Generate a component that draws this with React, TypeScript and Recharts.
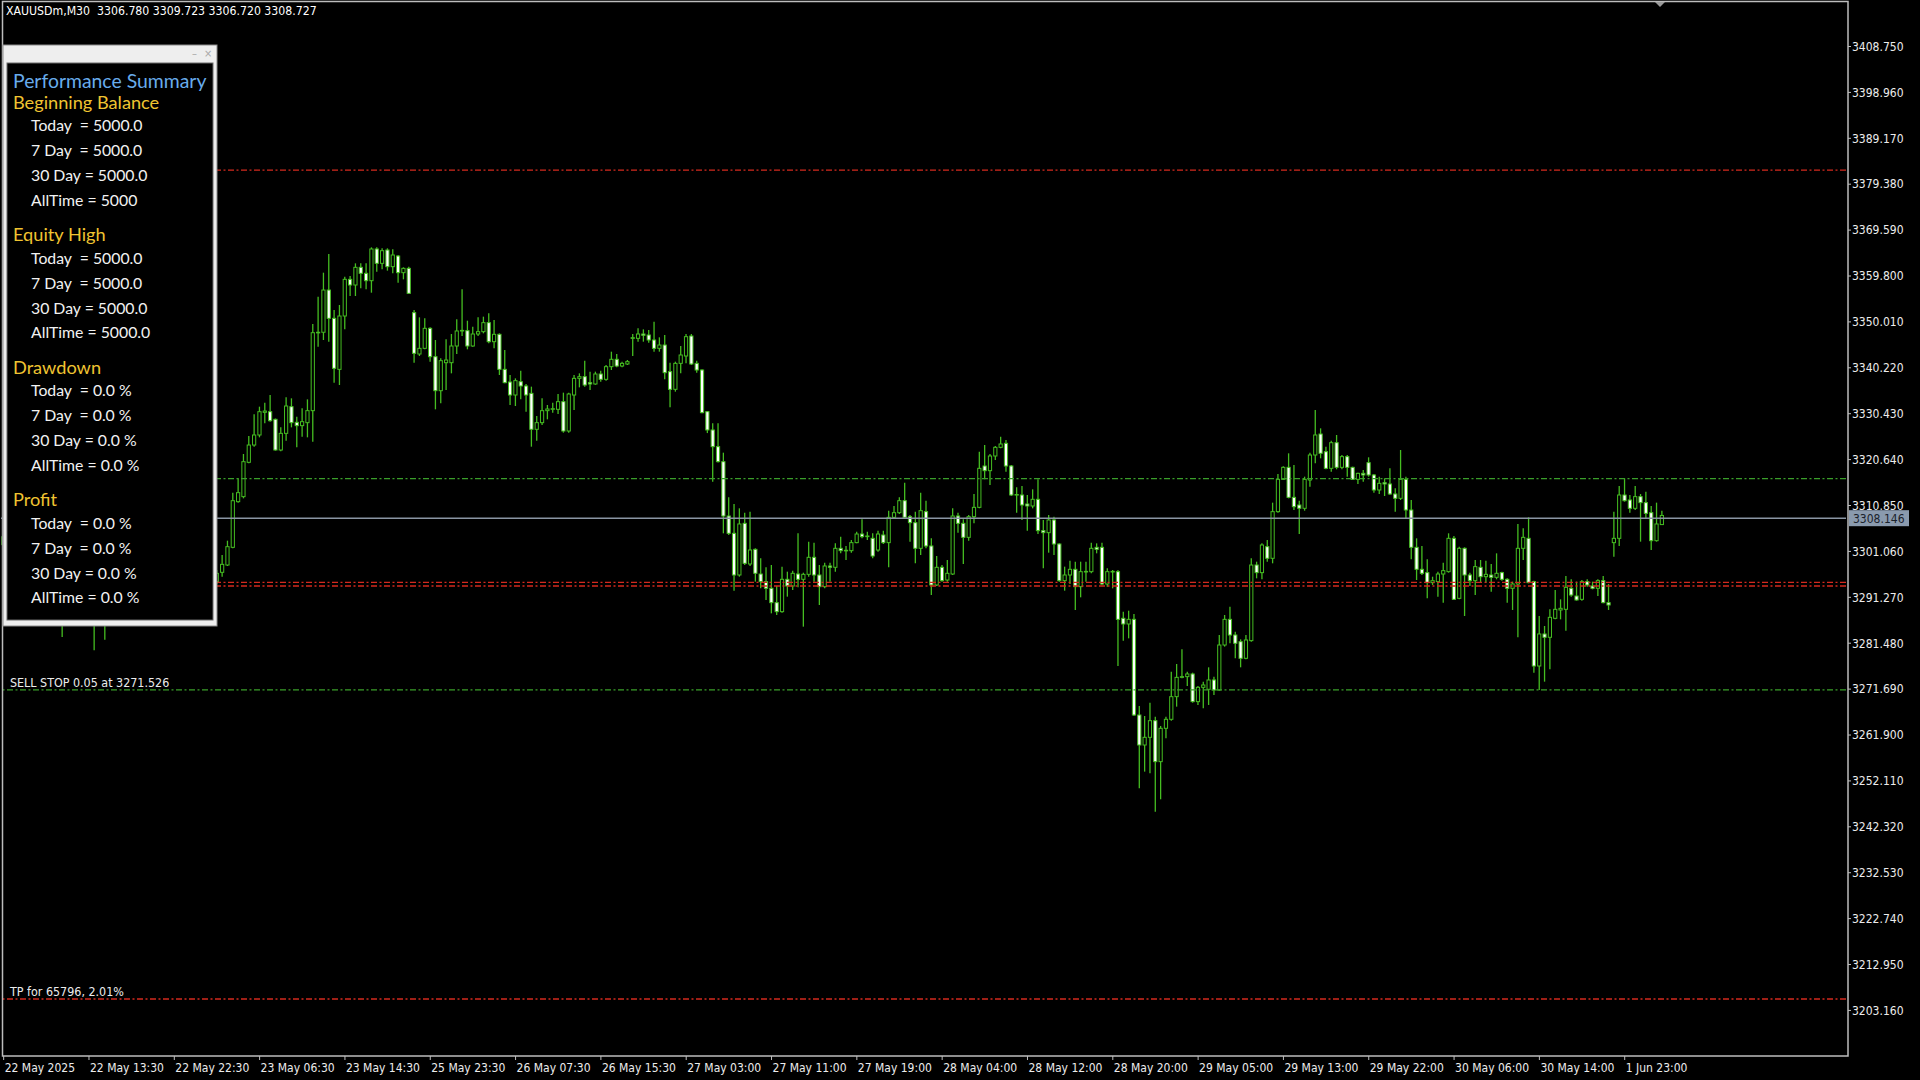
import React from 'react';
import { ComposedChart, Bar, XAxis, YAxis, ReferenceLine } from 'recharts';

// chart geometry (MT4 style, 346 bar slots, labels every 16 bars)
const CHART_W = 1920;
const CHART_H = 1080;
const SLOTS = 346;
const LABEL_STEP = 16;
const Y_MIN = 3193.44;
const Y_MAX = 3418.24;

const GREEN = '#45bd21';
const LINE_GREEN = '#3a9f2a';
const LINE_RED = '#d42a1e';
const TXT = '#ececec';
const BORDER = '#bdbdbd';
const LABEL_FONT = '"DejaVu Sans Condensed", "DejaVu Sans", sans-serif';
const PANEL_FONT = 'Lato, "Open Sans", sans-serif';

const symbolName = 'XAUUSDm,M30';

const timeLabels = [
  '22 May 2025', '22 May 13:30', '22 May 22:30', '23 May 06:30', '23 May 14:30',
  '25 May 23:30', '26 May 07:30', '26 May 15:30', '27 May 03:00', '27 May 11:00',
  '27 May 19:00', '28 May 04:00', '28 May 12:00', '28 May 20:00', '29 May 05:00',
  '29 May 13:00', '29 May 22:00', '30 May 06:00', '30 May 14:00', '1 Jun 23:00',
];

const priceTicks = [
  3408.75, 3398.96, 3389.17, 3379.38, 3369.59, 3359.8, 3350.01, 3340.22, 3330.43, 3320.64, 3310.85,
  3301.06, 3291.27, 3281.48, 3271.69, 3261.9, 3252.11, 3242.32, 3232.53, 3222.74, 3212.95, 3203.16,
];

const openPrices = [
  3304.2, 3302.5, 3300.4, 3301.8, 3298.6, 3296.0, 3298.7, 3297.2, 3293.6, 3295.9,
  3292.3, 3290.5, 3288.9, 3294.7, 3293.1, 3295.2, 3291.3, 3290.0, 3288.6, 3291.6,
  3289.3, 3293.8, 3296.9, 3295.0, 3297.4, 3300.6, 3298.5, 3296.3, 3299.1, 3302.6,
  3300.7, 3297.2, 3294.0, 3296.8, 3293.4, 3291.0, 3293.9, 3292.2, 3294.8, 3293.9,
  3294.61, 3296.60, 3298.16, 3301.93, 3311.67, 3312.74, 3320.06, 3323.75, 3325.89, 3330.72,
  3330.86, 3329.23, 3322.69, 3326.24, 3331.93, 3328.59, 3327.88, 3328.52, 3331.08, 3347.71,
  3347.80, 3356.81, 3350.77, 3339.89, 3351.27, 3359.09, 3357.88, 3361.65, 3360.37, 3358.80,
  3365.56, 3362.50, 3365.34, 3361.79, 3364.06, 3360.51, 3361.43, 3351.98, 3343.16, 3344.37,
  3348.64, 3342.59, 3335.34, 3341.31, 3341.31, 3344.87, 3348.07, 3348.14, 3344.87, 3347.43,
  3347.93, 3349.85, 3345.79, 3347.36, 3339.89, 3337.19, 3334.42, 3337.26, 3336.34, 3334.77,
  3327.10, 3328.52, 3331.08, 3331.43, 3331.36, 3333.00, 3326.74, 3334.42, 3337.97, 3338.33,
  3337.05, 3336.77, 3338.90, 3337.76, 3340.46, 3342.03, 3340.60, 3341.03, 3346.50, 3346.50,
  3347.43, 3347.22, 3346.15, 3344.37, 3345.08, 3339.40, 3335.63, 3341.17, 3342.74, 3347.00,
  3341.17, 3339.75, 3330.87, 3326.96, 3323.40, 3320.20, 3308.61, 3304.92, 3296.03, 3307.05,
  3298.38, 3301.50, 3296.24, 3294.61, 3293.19, 3290.13, 3288.21, 3295.11, 3293.68, 3296.24,
  3295.11, 3296.17, 3299.80, 3296.03, 3293.54, 3297.95, 3297.67, 3301.72, 3301.22, 3301.22,
  3302.93, 3304.77, 3304.21, 3303.85, 3301.36, 3304.56, 3302.93, 3308.33, 3309.32, 3311.88,
  3308.47, 3307.19, 3301.72, 3309.54, 3302.22, 3293.90, 3297.67, 3294.96, 3296.24, 3308.61,
  3307.05, 3304.06, 3308.47, 3310.46, 3319.28, 3318.28, 3321.41, 3323.26, 3324.11, 3319.28,
  3313.09, 3313.09, 3311.17, 3310.75, 3312.17, 3305.49, 3305.06, 3307.76, 3302.64, 3294.82,
  3296.03, 3297.24, 3293.54, 3296.74, 3296.74, 3301.93, 3301.93, 3294.11, 3296.74, 3296.74,
  3286.79, 3285.58, 3286.57, 3266.17, 3259.77, 3261.41, 3264.96, 3256.22, 3263.33, 3265.25,
  3270.08, 3274.20, 3274.35, 3274.92, 3269.02, 3272.07, 3271.65, 3273.64, 3271.50, 3281.10,
  3286.57, 3283.23, 3281.81, 3278.26, 3282.03, 3298.16, 3296.53, 3302.07, 3299.59, 3309.54,
  3316.43, 3318.99, 3312.59, 3310.96, 3310.25, 3316.29, 3321.62, 3326.10, 3322.33, 3318.78,
  3324.25, 3318.99, 3321.27, 3318.99, 3316.43, 3317.71, 3319.99, 3317.36, 3314.16, 3315.72,
  3315.44, 3313.31, 3312.38, 3316.43, 3309.89, 3301.93, 3297.24, 3296.53, 3294.40, 3294.61,
  3296.24, 3296.74, 3303.85, 3291.05, 3301.72, 3296.03, 3294.82, 3297.67, 3295.67, 3296.03,
  3295.53, 3296.53, 3295.11, 3293.19, 3294.11, 3301.72, 3303.85, 3294.61, 3276.62, 3283.45,
  3282.74, 3286.79, 3288.57, 3288.71, 3293.19, 3291.55, 3290.84, 3294.61, 3293.68, 3293.19,
  3294.82, 3290.13, 3302.93, 3303.85, 3313.09, 3312.03, 3310.25, 3312.74, 3311.46, 3309.32,
  3303.35, 3306.78,
];

const highPrices = [
  3306.1, 3304.0, 3302.9, 3303.5, 3300.2, 3299.4, 3301.3, 3298.5, 3296.8, 3297.0,
  3294.6, 3293.2, 3295.4, 3297.3, 3296.0, 3296.4, 3293.7, 3292.1, 3292.4, 3292.8,
  3294.5, 3297.6, 3299.2, 3298.1, 3301.5, 3302.3, 3300.1, 3299.8, 3303.4, 3304.8,
  3301.9, 3298.6, 3297.5, 3298.0, 3295.2, 3294.7, 3296.3, 3295.6, 3297.1, 3295.8,
  3297.10, 3300.29, 3303.35, 3313.59, 3316.65, 3321.84, 3325.67, 3330.30, 3331.93, 3332.78,
  3334.42, 3329.40, 3327.52, 3333.92, 3333.71, 3329.80, 3331.58, 3333.49, 3349.56, 3355.39,
  3360.51, 3364.49, 3352.55, 3353.61, 3359.66, 3359.80, 3362.50, 3362.50, 3362.50, 3365.91,
  3365.91, 3365.70, 3365.70, 3365.49, 3364.28, 3361.65, 3361.79, 3352.55, 3350.98, 3350.77,
  3348.85, 3346.15, 3342.24, 3346.29, 3347.43, 3350.56, 3356.96, 3350.27, 3348.99, 3350.98,
  3351.13, 3351.84, 3350.41, 3347.57, 3344.02, 3338.68, 3337.97, 3339.61, 3336.77, 3336.20,
  3329.94, 3333.71, 3332.29, 3332.78, 3334.63, 3334.92, 3334.92, 3338.68, 3339.04, 3341.74,
  3339.40, 3339.40, 3339.61, 3340.82, 3343.66, 3343.16, 3341.53, 3341.88, 3347.43, 3348.64,
  3348.42, 3348.28, 3350.06, 3346.72, 3347.22, 3341.31, 3341.53, 3344.87, 3347.43, 3347.43,
  3341.74, 3339.89, 3331.00, 3328.38, 3328.38, 3322.12, 3312.59, 3311.17, 3310.25, 3309.32,
  3309.54, 3301.72, 3299.59, 3297.67, 3298.16, 3293.68, 3297.81, 3296.74, 3296.96, 3304.92,
  3296.52, 3303.14, 3302.93, 3298.16, 3298.66, 3298.66, 3302.78, 3304.21, 3302.22, 3303.50,
  3305.27, 3307.90, 3305.27, 3304.92, 3305.49, 3305.49, 3309.75, 3310.75, 3312.59, 3315.72,
  3308.83, 3309.54, 3313.59, 3311.88, 3303.85, 3300.08, 3298.16, 3299.23, 3310.25, 3309.32,
  3307.90, 3308.83, 3313.31, 3322.33, 3323.76, 3321.84, 3323.54, 3325.53, 3324.82, 3319.49,
  3314.73, 3315.01, 3313.09, 3314.30, 3316.43, 3307.76, 3308.83, 3308.47, 3302.78, 3297.81,
  3299.09, 3298.87, 3298.87, 3298.87, 3302.93, 3302.78, 3302.93, 3297.45, 3297.10, 3297.10,
  3288.21, 3288.42, 3287.71, 3268.09, 3265.96, 3268.80, 3265.82, 3263.83, 3265.82, 3275.41,
  3277.05, 3280.18, 3275.41, 3275.20, 3272.36, 3273.28, 3276.34, 3274.35, 3283.23, 3287.50,
  3289.28, 3283.94, 3282.31, 3283.23, 3299.59, 3298.87, 3302.78, 3303.50, 3311.46, 3317.57,
  3319.20, 3321.98, 3319.49, 3311.88, 3317.00, 3322.12, 3331.22, 3327.31, 3323.40, 3324.68,
  3325.89, 3321.62, 3321.62, 3319.13, 3317.85, 3318.42, 3321.13, 3317.57, 3317.00, 3316.65,
  3318.78, 3314.51, 3322.69, 3317.00, 3312.03, 3303.85, 3302.22, 3299.37, 3295.67, 3296.74,
  3298.66, 3304.92, 3304.35, 3302.07, 3301.93, 3296.53, 3299.23, 3299.23, 3299.09, 3298.38,
  3300.65, 3296.74, 3295.32, 3294.61, 3306.91, 3306.00, 3308.33, 3294.82, 3287.29, 3285.15,
  3288.71, 3292.83, 3290.84, 3295.82, 3295.11, 3294.61, 3294.96, 3295.11, 3294.61, 3295.11,
  3295.82, 3294.11, 3309.54, 3315.01, 3316.65, 3313.09, 3315.01, 3313.31, 3313.80, 3310.75,
  3311.46, 3309.723,
];

const lowPrices = [
  3301.8, 3299.6, 3298.7, 3297.9, 3295.1, 3294.8, 3296.6, 3292.9, 3292.1, 3291.4,
  3289.7, 3282.8, 3288.6, 3292.5, 3291.8, 3290.6, 3289.2, 3280.0, 3287.9, 3282.2,
  3288.8, 3292.7, 3294.3, 3293.6, 3296.2, 3297.8, 3295.5, 3295.7, 3298.2, 3299.9,
  3296.4, 3293.1, 3293.3, 3292.6, 3290.1, 3290.3, 3291.5, 3291.0, 3293.2, 3292.4,
  3294.11, 3295.67, 3297.95, 3301.72, 3311.46, 3312.38, 3319.84, 3323.40, 3325.39, 3328.38,
  3328.73, 3322.55, 3322.40, 3324.68, 3327.52, 3323.26, 3325.53, 3325.39, 3324.47, 3344.73,
  3346.15, 3345.79, 3337.05, 3336.55, 3348.42, 3355.53, 3355.53, 3357.17, 3356.96, 3356.24,
  3360.72, 3361.22, 3360.94, 3360.37, 3358.38, 3359.09, 3355.95, 3341.31, 3342.74, 3344.16,
  3341.53, 3331.36, 3332.64, 3335.48, 3339.04, 3343.16, 3347.00, 3344.16, 3344.73, 3347.00,
  3347.57, 3345.44, 3344.37, 3338.68, 3336.91, 3332.29, 3332.07, 3333.49, 3330.86, 3323.40,
  3324.68, 3328.02, 3329.23, 3330.65, 3330.37, 3326.39, 3326.39, 3331.22, 3336.05, 3336.20,
  3335.48, 3336.60, 3337.26, 3337.48, 3339.75, 3340.32, 3340.32, 3340.82, 3342.74, 3345.79,
  3345.79, 3345.58, 3343.66, 3343.66, 3337.76, 3331.79, 3335.13, 3339.04, 3341.17, 3340.82,
  3339.18, 3330.51, 3326.30, 3315.94, 3320.00, 3304.92, 3304.56, 3292.69, 3295.67, 3298.16,
  3297.95, 3294.61, 3293.19, 3290.70, 3287.85, 3287.50, 3288.00, 3291.41, 3292.83, 3293.40,
  3285.01, 3295.67, 3294.61, 3289.63, 3293.19, 3294.61, 3296.74, 3300.65, 3299.23, 3300.79,
  3302.78, 3303.85, 3303.50, 3299.59, 3301.01, 3302.64, 3297.67, 3308.12, 3309.04, 3308.12,
  3303.14, 3298.52, 3300.30, 3301.72, 3291.76, 3293.68, 3294.61, 3294.61, 3296.03, 3305.06,
  3298.38, 3303.35, 3307.05, 3310.25, 3316.43, 3315.23, 3320.56, 3323.05, 3318.07, 3312.88,
  3309.32, 3307.76, 3305.49, 3310.25, 3304.77, 3297.45, 3300.79, 3300.30, 3294.61, 3292.69,
  3294.11, 3288.57, 3291.27, 3294.61, 3296.39, 3300.65, 3293.90, 3293.54, 3293.19, 3276.62,
  3282.02, 3282.52, 3265.96, 3250.53, 3254.09, 3253.73, 3245.55, 3248.19, 3261.19, 3264.96,
  3267.95, 3273.99, 3272.36, 3268.80, 3268.31, 3267.59, 3268.31, 3270.44, 3271.36, 3280.75,
  3281.46, 3278.26, 3276.34, 3278.05, 3281.81, 3295.32, 3295.11, 3298.87, 3298.52, 3309.32,
  3316.29, 3312.38, 3309.89, 3304.77, 3309.75, 3314.87, 3319.85, 3320.91, 3318.57, 3318.07,
  3318.57, 3318.57, 3317.00, 3316.29, 3315.44, 3315.94, 3317.00, 3313.59, 3313.31, 3312.88,
  3313.09, 3309.54, 3312.03, 3308.12, 3299.37, 3294.96, 3296.03, 3291.05, 3293.90, 3291.41,
  3290.13, 3296.53, 3290.70, 3290.84, 3287.29, 3293.68, 3291.76, 3294.40, 3294.40, 3292.47,
  3295.11, 3294.82, 3290.13, 3288.57, 3282.74, 3299.23, 3294.25, 3275.20, 3271.50, 3273.28,
  3275.91, 3286.57, 3286.57, 3284.16, 3291.41, 3290.56, 3290.56, 3293.54, 3292.97, 3291.55,
  3289.99, 3288.57, 3299.94, 3302.22, 3311.67, 3309.32, 3309.89, 3303.14, 3308.12, 3301.36,
  3303.14, 3306.72,
];

const closePrices = [
  3302.5, 3300.4, 3301.8, 3298.6, 3296.0, 3298.7, 3297.2, 3293.6, 3295.9, 3292.3,
  3290.5, 3288.9, 3294.7, 3293.1, 3295.2, 3291.3, 3290.0, 3288.6, 3291.6, 3289.3,
  3293.8, 3296.9, 3295.0, 3297.4, 3300.6, 3298.5, 3296.3, 3299.1, 3302.6, 3300.7,
  3297.2, 3294.0, 3296.8, 3293.4, 3291.0, 3293.9, 3292.2, 3294.8, 3293.9, 3294.6,
  3296.38, 3298.30, 3302.07, 3311.88, 3313.59, 3320.20, 3323.75, 3325.89, 3330.86, 3331.00,
  3328.94, 3322.69, 3326.24, 3332.07, 3328.52, 3327.88, 3328.73, 3331.08, 3347.71, 3347.80,
  3356.81, 3350.77, 3340.11, 3351.27, 3359.09, 3357.88, 3361.65, 3360.37, 3358.80, 3365.56,
  3362.50, 3365.20, 3361.79, 3364.28, 3360.51, 3361.43, 3356.10, 3343.31, 3344.37, 3348.64,
  3342.59, 3335.34, 3341.74, 3341.88, 3344.87, 3348.07, 3348.20, 3344.87, 3347.43, 3347.93,
  3349.85, 3345.79, 3347.36, 3339.89, 3337.05, 3334.42, 3337.48, 3336.34, 3334.42, 3327.10,
  3328.52, 3331.08, 3331.43, 3331.50, 3333.00, 3326.74, 3334.63, 3337.97, 3338.33, 3336.55,
  3336.77, 3338.90, 3337.76, 3340.46, 3342.03, 3340.60, 3341.17, 3341.53, 3346.65, 3347.43,
  3347.15, 3346.15, 3344.37, 3345.08, 3339.18, 3335.63, 3341.17, 3342.95, 3346.86, 3341.03,
  3339.75, 3330.65, 3326.96, 3323.40, 3320.20, 3308.61, 3304.92, 3296.03, 3306.91, 3298.52,
  3301.36, 3296.39, 3294.61, 3293.19, 3290.13, 3288.21, 3295.11, 3293.68, 3296.39, 3295.11,
  3296.17, 3299.80, 3296.03, 3293.54, 3297.95, 3297.67, 3301.72, 3301.22, 3301.30, 3302.93,
  3304.77, 3304.21, 3304.35, 3300.08, 3304.77, 3302.93, 3308.33, 3309.32, 3311.88, 3308.33,
  3307.19, 3301.72, 3309.75, 3302.22, 3293.90, 3297.67, 3294.82, 3296.39, 3308.61, 3307.05,
  3304.06, 3308.47, 3310.46, 3318.78, 3318.28, 3321.41, 3323.26, 3323.97, 3319.28, 3313.09,
  3313.20, 3310.96, 3310.75, 3312.17, 3305.49, 3305.06, 3307.76, 3302.64, 3294.82, 3296.03,
  3297.24, 3293.54, 3296.74, 3296.80, 3301.72, 3301.50, 3294.11, 3296.74, 3296.80, 3286.57,
  3285.58, 3286.57, 3266.17, 3259.77, 3261.41, 3264.96, 3256.22, 3263.33, 3265.25, 3270.08,
  3274.20, 3274.35, 3274.92, 3269.02, 3272.07, 3272.57, 3273.64, 3271.50, 3281.10, 3286.57,
  3283.23, 3281.46, 3278.26, 3282.17, 3298.16, 3296.53, 3302.43, 3299.59, 3309.54, 3316.43,
  3318.99, 3312.59, 3310.60, 3310.25, 3316.43, 3321.62, 3325.89, 3321.98, 3318.78, 3324.25,
  3318.99, 3321.27, 3318.99, 3316.43, 3317.71, 3317.36, 3317.36, 3314.16, 3315.58, 3315.44,
  3313.31, 3312.38, 3316.43, 3309.89, 3301.93, 3297.24, 3296.39, 3294.40, 3294.82, 3296.24,
  3296.96, 3303.85, 3290.84, 3301.72, 3296.03, 3294.82, 3297.81, 3295.67, 3296.17, 3295.53,
  3296.39, 3295.11, 3293.19, 3294.11, 3301.72, 3304.06, 3294.40, 3276.62, 3283.45, 3282.74,
  3287.00, 3288.71, 3288.92, 3293.40, 3291.76, 3290.70, 3294.61, 3293.90, 3293.19, 3294.82,
  3290.13, 3289.63, 3303.85, 3313.09, 3311.88, 3310.25, 3312.74, 3311.46, 3309.18, 3303.35,
  3306.91, 3308.727,
];

// horizontal levels on the chart
const bidPrice = 3308.146;
const redLevels = [3382.4, 3294.46, 3293.68];
const greenLevel = 3316.6;
const sellStopPrice = 3271.526;
const tpPrice = 3205.6;
const sellStopText = 'SELL STOP 0.05 at 3271.526';
const tpText = 'TP for 65796, 2.01%';

// performance panel content
const panelTitle = 'Performance Summary';
const panelSections = [
  { title: 'Beginning Balance', rows: ['Today  = 5000.0', '7 Day  = 5000.0', '30 Day = 5000.0', 'AllTime = 5000'] },
  { title: 'Equity High', rows: ['Today  = 5000.0', '7 Day  = 5000.0', '30 Day = 5000.0', 'AllTime = 5000.0'] },
  { title: 'Drawdown', rows: ['Today  = 0.0 %', '7 Day  = 0.0 %', '30 Day = 0.0 %', 'AllTime = 0.0 %'] },
  { title: 'Profit', rows: ['Today  = 0.0 %', '7 Day  = 0.0 %', '30 Day = 0.0 %', 'AllTime = 0.0 %'] },
];

const rows = Array.from({ length: SLOTS }, (_, i) =>
  i < openPrices.length
    ? {
        i,
        open: openPrices[i],
        high: highPrices[i],
        low: lowPrices[i],
        close: closePrices[i],
        range: [lowPrices[i], highPrices[i]],
      }
    : { i }
);

const tickIdx = timeLabels.map((_, k) => k * LABEL_STEP);
const last = rows[openPrices.length - 1] as any;

const Candle = (props: any) => {
  const { x, width, y, height, payload } = props;
  if (!payload || payload.open == null) return null;
  const { open, high, low, close } = payload;
  const cx = x + width / 2;
  const k = high > low ? height / (high - low) : 0;
  const yO = y + (high - open) * k;
  const yC = y + (high - close) * k;
  const top = Math.min(yO, yC);
  const h = Math.max(Math.abs(yC - yO), 0.6);
  const bull = close >= open;
  return (
    <g>
      <line x1={cx} x2={cx} y1={y} y2={y + height} stroke={GREEN} strokeWidth={1.3} />
      <rect x={cx - 1.6} y={top} width={3.2} height={h} fill={bull ? '#000' : '#fff'} stroke={GREEN} strokeWidth={1} />
    </g>
  );
};

const TimeTick = (props: any) => {
  const { x, y, payload } = props;
  const label = timeLabels[Math.round(payload.value / LABEL_STEP)];
  return (
    <g>
      <line x1={x} x2={x} y1={y} y2={y + 4} stroke={BORDER} />
      <text x={x + 1} y={y + 16} fill={TXT} fontSize={12} fontFamily={LABEL_FONT}>
        {label}
      </text>
    </g>
  );
};

const PriceTick = (props: any) => {
  const { x, y, payload } = props;
  return (
    <g>
      <line x1={x + 2} x2={x + 5} y1={y} y2={y} stroke={BORDER} />
      <text x={x + 6} y={y + 4.3} fill={TXT} fontSize={12} fontFamily={LABEL_FONT}>
        {Number(payload.value).toFixed(3)}
      </text>
    </g>
  );
};

const BidBox = ({ viewBox }: any) => {
  const bx = viewBox.x + viewBox.width + 3;
  return (
    <g>
      <rect x={bx} y={viewBox.y - 8} width={60} height={16} fill="#8a9aae" />
      <text x={bx + 4} y={viewBox.y + 4.5} fill="#1a222c" fontSize={12} fontFamily={LABEL_FONT}>
        {bidPrice.toFixed(3)}
      </text>
    </g>
  );
};

const lineText = (text: string) => ({ viewBox }: any) => (
  <text x={viewBox.x + 9} y={viewBox.y - 3} fill={TXT} fontSize={12.4} fontFamily={LABEL_FONT}>
    {text}
  </text>
);

const DASH = '6 2.5 2 2.5';

export default function App() {
  return (
    <div style={{ position: 'fixed', left: 0, top: 0, width: CHART_W, height: CHART_H, background: '#000', overflow: 'hidden' }}>
      <ComposedChart
        width={CHART_W}
        height={CHART_H}
        data={rows}
        margin={{ top: 2, right: 2, bottom: 2, left: 1 }}
        barCategoryGap={0}
      >
        <XAxis
          dataKey="i"
          type="category"
          ticks={tickIdx}
          interval={0}
          height={22}
          tickSize={0}
          tickMargin={0}
          axisLine={false}
          tickLine={false}
          tick={<TimeTick />}
        />
        <YAxis
          orientation="right"
          type="number"
          domain={[Y_MIN, Y_MAX]}
          allowDataOverflow
          ticks={priceTicks}
          interval={0}
          width={72}
          tickSize={0}
          tickMargin={0}
          axisLine={false}
          tickLine={false}
          tick={<PriceTick />}
        />
        <Bar dataKey="range" shape={(p: any) => <Candle {...p} />} isAnimationActive={false} />
        {redLevels.map((v) => (
          <ReferenceLine key={v} y={v} stroke={LINE_RED} strokeWidth={1.3} strokeDasharray={DASH} />
        ))}
        <ReferenceLine y={greenLevel} stroke={LINE_GREEN} strokeWidth={1.3} strokeDasharray={DASH} />
        <ReferenceLine y={sellStopPrice} stroke={LINE_GREEN} strokeWidth={1.3} strokeDasharray={DASH} label={lineText(sellStopText)} />
        <ReferenceLine y={tpPrice} stroke={LINE_RED} strokeWidth={1.3} strokeDasharray={DASH} label={lineText(tpText)} />
        <ReferenceLine y={bidPrice} stroke="#8a95a3" strokeWidth={1.4} label={BidBox} />
      </ComposedChart>

      <svg width={CHART_W} height={CHART_H} style={{ position: 'absolute', left: 0, top: 0, pointerEvents: 'none' }}>
        {/* chart frame */}
        <rect x={2.5} y={1.5} width={1845.5} height={1054.5} fill="none" stroke={BORDER} strokeWidth={1.5} />
        <polygon points="1655,2 1665,2 1660,7" fill="#9a9a9a" />
        <text x={6} y={15} fill="#fff" fontSize={12.2} fontFamily={LABEL_FONT} style={{ whiteSpace: 'pre' }}>
          {`${symbolName}  ${last.open.toFixed(3)} ${last.high.toFixed(3)} ${last.low.toFixed(3)} ${last.close.toFixed(3)}`}
        </text>

        {/* performance summary panel */}
        <rect x={3} y={45} width={214} height={581} fill="#eeeeee" stroke="#8c8c8c" />
        <rect x={7} y={63} width={206} height={557} fill="#000" stroke="#6a6a6a" />
        <text x={192} y={57} fill="#a8a8a8" fontSize={11} fontFamily={LABEL_FONT}>–</text>
        <text x={204} y={57} fill="#a8a8a8" fontSize={11} fontFamily={LABEL_FONT}>×</text>
        <text x={13} y={88} fill="#68acec" fontSize={19.4} fontFamily={PANEL_FONT}>
          {panelTitle}
        </text>
        {panelSections.map((s, si) => {
          const base = 108.6 + si * 132.5;
          return (
            <g key={s.title}>
              <text x={13} y={base} fill="#f0c431" fontSize={18.2} fontFamily={PANEL_FONT}>
                {s.title}
              </text>
              {s.rows.map((r, ri) => (
                <text
                  key={ri}
                  x={31}
                  y={base + 22.6 + ri * 24.9}
                  fill="#f2f2f2"
                  fontSize={15.8}
                  fontFamily={PANEL_FONT}
                  style={{ whiteSpace: 'pre' }}
                >
                  {r}
                </text>
              ))}
            </g>
          );
        })}
      </svg>
    </div>
  );
}
